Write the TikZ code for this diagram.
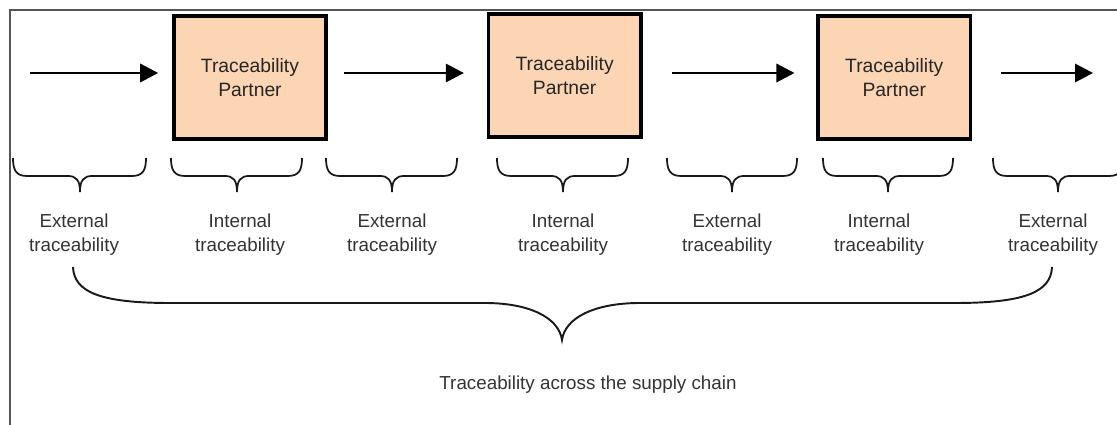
\documentclass[tikz,border=0pt]{standalone}
\usepackage{fontspec}
\setmainfont{Liberation Sans}
\usetikzlibrary{positioning,arrows.meta}
\definecolor{partnerpeach}{RGB}{252,213,180}
\definecolor{framegray}{RGB}{85,85,85}
\tikzset{partner/.style={draw, line width=2.1pt, fill=partnerpeach, minimum width=3.05cm, minimum height=2.47cm, inner sep=0pt, align=center, text=black!85, font=\fontsize{11}{13.5}\selectfont}}
\tikzset{flow/.style={line width=1pt, -{Triangle[length=0.36cm, width=0.37cm]}}}
\tikzset{curly/.style={line width=1pt, black!90}}
\tikzset{lbl/.style={align=center, inner sep=0pt, text=black!80, font=\fontsize{10.7}{13.3}\selectfont}}

\begin{document}
\begin{tikzpicture}[x=0.02cm, y=-0.02cm]
    \useasboundingbox (0,0) rectangle (1117,425);
    \draw[framegray, line width=0.8pt] (10,425) -- (10,10) -- (1117,10);

    % partners along the chain
    \node[partner] (p1) at (250,77.5) {Traceability\\Partner};
    \node[partner, right=3.17cm of p1, yshift=0.04cm] (p2) {Traceability\\Partner};
    \node[partner, right=3.47cm of p2, yshift=-0.04cm] (p3) {Traceability\\Partner};

    \coordinate (in) at (30,73);
    \coordinate (out) at (1093,73);

    \draw[flow, shorten >=0.275cm] (in) -- (p1.west |- in);
    \draw[flow, shorten <=0.315cm, shorten >=0.455cm] (p1.east |- in) -- (p2.west |- in);
    \draw[flow, shorten <=0.595cm, shorten >=0.435cm] (p2.east |- in) -- (p3.west |- in);
    \draw[flow, shorten <=0.575cm] (p3.east |- in) -- (out);

    % small braces
    \foreach \l/\m/\r in {13/80/146, 171/237/302, 326/392/457, 497/563/628, 667/732/797, 823/888/953, 993/1058/1123}
        \draw[curly] (\l,158) .. controls (\l,170) and (\l+3,176) .. (\l+14,176) -- (\m-12,176)
            .. controls (\m-4,176) and (\m,180) .. (\m,192)
            .. controls (\m,180) and (\m+4,176) .. (\m+12,176) -- (\r-14,176)
            .. controls (\r-3,176) and (\r,170) .. (\r,158);

    \foreach \x/\t [count=\i] in {74/External, 240/Internal, 392/External, 563/Internal, 727/External, 879/Internal, 1053/External}
        \node[lbl] (t\i) at (\x,234.5) {\t\\traceability};

    % big brace
    \draw[curly, line width=1.1pt] (73,267) .. controls (74,292) and (100,303) .. (170,303) -- (485,303)
        .. controls (530,303) and (559,318) .. (562,340)
        .. controls (565,318) and (594,303) .. (640,303) -- (955,303)
        .. controls (1025,303) and (1051,292) .. (1052,267);

    \node[lbl] (chain) at (588,385) {Traceability across the supply chain};
\end{tikzpicture}
\end{document}
